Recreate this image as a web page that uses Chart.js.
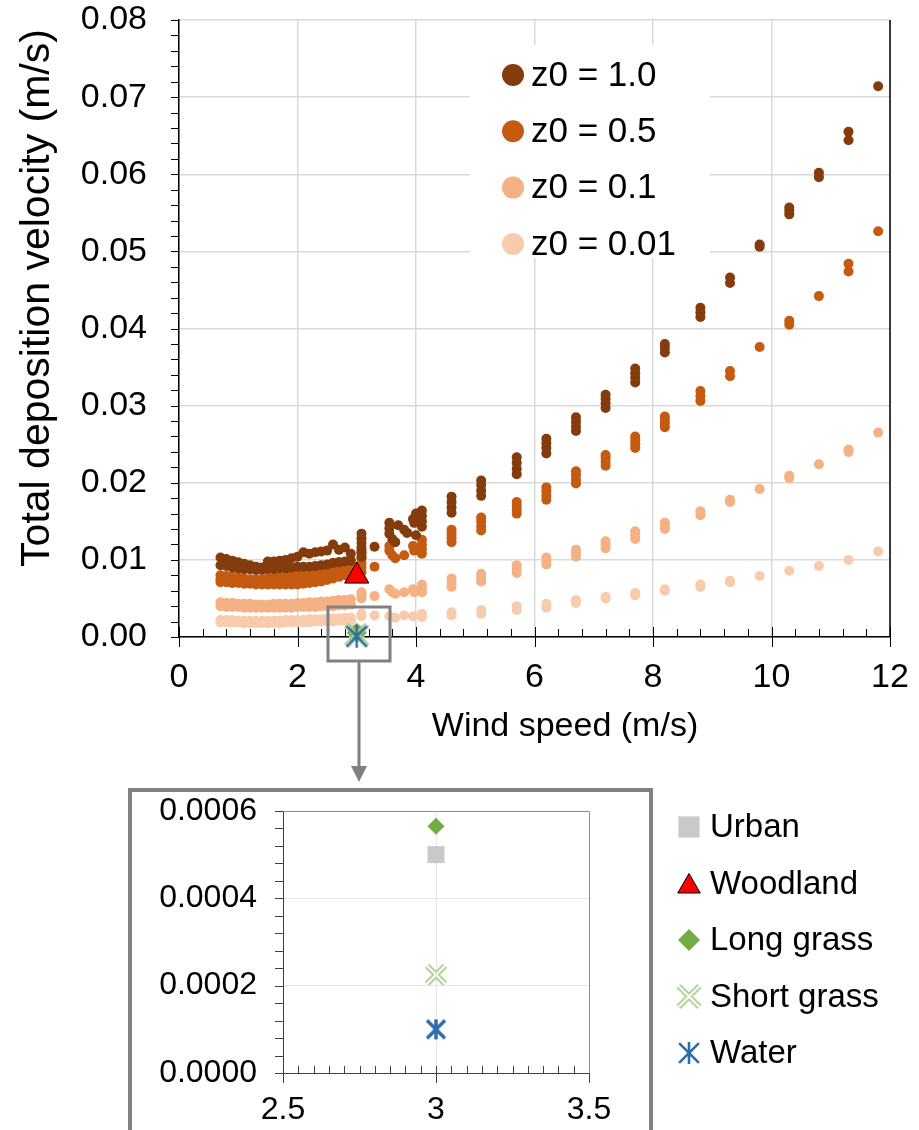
<!DOCTYPE html>
<html>
<head>
<meta charset="utf-8">
<script src="https://cdn.jsdelivr.net/npm/chart.js@4"></script>
<style>
  html, body { margin: 0; padding: 0; background: #fff; }
  body { width: 919px; height: 1130px; position: relative; overflow: hidden; }
  #mainChart { position: absolute; left: 0; top: 0; }
  #insetBox { position: absolute; left: 128px; top: 788px; width: 517px; height: 400px; border: 4px solid #808080; }
  #insetChart { position: absolute; left: 128px; top: 788px; }
</style>
</head>
<body>
<canvas id="mainChart" width="919" height="790"></canvas>
<div id="insetBox"></div>
<canvas id="insetChart" width="791" height="342"></canvas>
<script>
// ---- data ----
const seriesLabels = ['z0 = 1.0', 'z0 = 0.5', 'z0 = 0.1', 'z0 = 0.01'];
const seriesColors = ['#843C0C', '#C55A11', '#F4B183', '#F8CBAD'];

// low wind speeds: dense bands
const lowWind = [0.7, 0.8, 0.9, 1.0, 1.1, 1.2, 1.3, 1.4, 1.5, 1.6, 1.7, 1.8, 1.9, 2.0, 2.1, 2.2, 2.3, 2.4, 2.5, 2.6, 2.7, 2.8, 2.9];
const z10LowUpper = [0.0103, 0.0101, 0.0099, 0.0097, 0.0095, 0.0093, 0.0091, 0.0090, 0.0098, 0.0098, 0.0099, 0.0100, 0.0102, 0.0104, 0.0110, 0.0108, 0.0110, 0.0111, 0.0112, 0.0120, 0.0113, 0.0116, 0.0108];
const z10LowLower = [0.0093, 0.0092, 0.0090, 0.0089, 0.0088, 0.0088, 0.0087, 0.0087, 0.0088, 0.0088, 0.0089, 0.0089, 0.0090, 0.0091, 0.0091, 0.0091, 0.0092, 0.0093, 0.0094, 0.0096, 0.0097, 0.0098, 0.0099];
const z05LowUpper = [0.0080, 0.0079, 0.0078, 0.0077, 0.0076, 0.0075, 0.0075, 0.0075, 0.0076, 0.0077, 0.0077, 0.0078, 0.0079, 0.0083, 0.0087, 0.0089, 0.0089, 0.0090, 0.0092, 0.0096, 0.0097, 0.0096, 0.0098];
const z05LowMiddle = [0.0075, 0.0075, 0.0074, 0.0073, 0.0072, 0.0072, 0.0071, 0.0071, 0.0072, 0.0072, 0.0072, 0.0073, 0.0074, 0.0075, 0.0078, 0.0080, 0.0080, 0.0081, 0.0083, 0.0086, 0.0088, 0.0088, 0.0090];
const z05LowLower = [0.0071, 0.0071, 0.0070, 0.0070, 0.0069, 0.0069, 0.0068, 0.0068, 0.0068, 0.0068, 0.0068, 0.0068, 0.0068, 0.0068, 0.0069, 0.0070, 0.0071, 0.0072, 0.0074, 0.0076, 0.0078, 0.0080, 0.0082];
const z01LowUpper = [0.0045, 0.0044, 0.0044, 0.0043, 0.0043, 0.0043, 0.0042, 0.0042, 0.0042, 0.0043, 0.0043, 0.0043, 0.0043, 0.0044, 0.0044, 0.0045, 0.0045, 0.0046, 0.0046, 0.0047, 0.0048, 0.0048, 0.0049];
const z01LowLower = [0.0040, 0.0039, 0.0039, 0.0039, 0.0038, 0.0038, 0.0038, 0.0038, 0.0038, 0.0038, 0.0038, 0.0038, 0.0038, 0.0039, 0.0039, 0.0039, 0.0039, 0.0040, 0.0040, 0.0040, 0.0041, 0.0041, 0.0042];
const z001LowUpper = [0.0022, 0.0022, 0.0022, 0.0021, 0.0021, 0.0021, 0.0021, 0.0021, 0.0021, 0.0021, 0.0021, 0.0022, 0.0022, 0.0022, 0.0022, 0.0023, 0.0023, 0.0023, 0.0024, 0.0024, 0.0024, 0.0025, 0.0025];
const z001LowLower = [0.0019, 0.0019, 0.0019, 0.0019, 0.0018, 0.0018, 0.0018, 0.0018, 0.0018, 0.0018, 0.0018, 0.0019, 0.0019, 0.0019, 0.0019, 0.0019, 0.0020, 0.0020, 0.0020, 0.0020, 0.0021, 0.0021, 0.0021];

// scattered points between 3 and 4 m/s
const z10ExtraX = [3.08, 3.08, 3.08, 3.08, 3.08, 3.08, 3.3, 3.55, 3.55, 3.55, 3.6, 3.65, 3.7, 3.8, 3.85, 3.95, 3.97, 4.0, 4.0];
const z10ExtraY = [0.0104, 0.0110, 0.0116, 0.0122, 0.0128, 0.0134, 0.0117, 0.0148, 0.0141, 0.0134, 0.0127, 0.0123, 0.0145, 0.0139, 0.0135, 0.0153, 0.0148, 0.0160, 0.0132];
const z05ExtraX = [3.08, 3.08, 3.08, 3.08, 3.08, 3.08, 3.3, 3.55, 3.55, 3.6, 3.65, 3.8, 3.95, 3.97];
const z05ExtraY = [0.0084, 0.0090, 0.0096, 0.0102, 0.0108, 0.0112, 0.0091, 0.0118, 0.0112, 0.0106, 0.0102, 0.0106, 0.0118, 0.0112];
const z01ExtraX = [3.08, 3.08, 3.08, 3.3, 3.55, 3.6, 3.65, 3.8, 3.95, 3.97];
const z01ExtraY = [0.0050, 0.0054, 0.0058, 0.0053, 0.0062, 0.0058, 0.0056, 0.0058, 0.0062, 0.0058];
const z001ExtraX = [3.08, 3.08, 3.3, 3.55, 3.65, 3.8, 3.95];
const z001ExtraY = [0.0027, 0.0030, 0.0028, 0.0027, 0.0025, 0.0028, 0.0027];

// higher wind speeds: vertical clusters
const windSteps = [4.1, 4.6, 5.1, 5.7, 6.2, 6.7, 7.2, 7.7, 8.2, 8.8, 9.3, 9.8, 10.3, 10.8, 11.3, 11.8];
const z10Clusters = [
  [0.0143, 0.0150, 0.0157, 0.0164], [0.0161, 0.0168, 0.0175, 0.0182], [0.0183, 0.0190, 0.0197, 0.0203],
  [0.0211, 0.0218, 0.0226, 0.0233], [0.0238, 0.0245, 0.0251, 0.0257], [0.0267, 0.0273, 0.0279, 0.0285],
  [0.0297, 0.0303, 0.0309, 0.0314], [0.0330, 0.0336, 0.0342, 0.0348], [0.0369, 0.0375, 0.0380],
  [0.0415, 0.0421, 0.0427], [0.0459, 0.0466], [0.0506, 0.0509], [0.0548, 0.0553, 0.0557],
  [0.0596, 0.0602], [0.0644, 0.0655], [0.0714]
];
const z05Clusters = [
  [0.0108, 0.0114, 0.0120, 0.0126], [0.0123, 0.0128, 0.0134, 0.0139], [0.0138, 0.0144, 0.0150, 0.0155],
  [0.0160, 0.0165, 0.0170, 0.0175], [0.0178, 0.0183, 0.0189, 0.0194], [0.0199, 0.0204, 0.0210, 0.0215],
  [0.0222, 0.0227, 0.0232, 0.0236], [0.0245, 0.0250, 0.0255, 0.0260], [0.0272, 0.0277, 0.0282, 0.0286],
  [0.0306, 0.0312, 0.0319], [0.0338, 0.0345], [0.0376], [0.0405, 0.0410],
  [0.0442], [0.0474, 0.0484], [0.0526]
];
const z01Clusters = [
  [0.0058, 0.0063, 0.0068], [0.0065, 0.0070, 0.0076], [0.0072, 0.0077, 0.0082],
  [0.0083, 0.0088, 0.0093], [0.0094, 0.0099, 0.0103], [0.0104, 0.0109, 0.0113],
  [0.0115, 0.0120, 0.0124], [0.0127, 0.0132, 0.0137], [0.0140, 0.0144, 0.0148],
  [0.0158, 0.0163], [0.0175, 0.0178], [0.0192], [0.0206, 0.0209],
  [0.0224], [0.0240, 0.0243], [0.0265]
];
const z001Clusters = [
  [0.0026, 0.0030], [0.0028, 0.0032], [0.0030, 0.0035], [0.0035, 0.0040], [0.0038, 0.0043],
  [0.0044, 0.0048], [0.0050, 0.0052], [0.0054, 0.0057], [0.0060, 0.0062], [0.0065, 0.0068],
  [0.0071, 0.0073], [0.0079], [0.0086], [0.0092], [0.0100], [0.0111]
];

// land-use sites at 3 m/s
const siteNames = ['Urban', 'Woodland', 'Long grass', 'Short grass', 'Water'];
const siteWind = [3, 3, 3, 3, 3];
const siteDeposition = [0.0005, 0.0079, 0.000565, 0.000225, 0.0001];
const siteColors = ['#C9C9C9', '#FF0000', '#70AD47', '#A9D18E', '#2E6DA8'];

// ---- helpers ----
Chart.defaults.font.family = '"Liberation Sans", Arial, sans-serif';
Chart.defaults.color = '#000';

function rowsToPoints(rows) {
  const pts = [];
  rows.forEach(row => row.forEach((v, i) => pts.push({ x: lowWind[i], y: v })));
  return pts;
}
function pairsToPoints(xs, ys) {
  return xs.map((x, i) => ({ x: x, y: ys[i] }));
}
function clustersToPoints(clusters) {
  const pts = [];
  clusters.forEach((vals, i) => vals.forEach(v => pts.push({ x: windSteps[i], y: v })));
  return pts;
}

function doubleCross(size, color) {
  const c = document.createElement('canvas');
  c.width = c.height = size;
  const g = c.getContext('2d');
  const m = 3;
  g.beginPath();
  g.moveTo(m, m); g.lineTo(size - m, size - m);
  g.moveTo(size - m, m); g.lineTo(m, size - m);
  g.strokeStyle = color;
  g.lineWidth = 6;
  g.stroke();
  g.globalCompositeOperation = 'destination-out';
  g.lineWidth = 2.2;
  g.stroke();
  return c;
}
function asterisk(size, color, lw) {
  const c = document.createElement('canvas');
  c.width = c.height = size;
  const g = c.getContext('2d');
  const m = 2, h = size / 2;
  const d = (h - m) * 0.9;
  g.beginPath();
  g.moveTo(h, m); g.lineTo(h, size - m);
  g.moveTo(h - d, h - d); g.lineTo(h + d, h + d);
  g.moveTo(h + d, h - d); g.lineTo(h - d, h + d);
  g.strokeStyle = color;
  g.lineWidth = lw;
  g.stroke();
  return c;
}

function siteDatasets(big) {
  const styles = [
    { pointStyle: 'rect', pointRadius: big ? 11 : 12 },
    { pointStyle: 'triangle', pointRadius: 14, borderColor: '#000', borderWidth: 1 },
    { pointStyle: 'rectRot', pointRadius: big ? 10 : 8.5 },
    { pointStyle: doubleCross(big ? 27 : 24, siteColors[3]), pointRadius: 12 },
    { pointStyle: asterisk(big ? 27 : 24, siteColors[4], big ? 2.4 : 3.5), pointRadius: 12 }
  ];
  const orders = [3, 0, 2, 1, 0];
  return siteNames.map((name, i) => Object.assign({
    label: name,
    data: [{ x: siteWind[i], y: siteDeposition[i] }],
    backgroundColor: siteColors[i],
    borderColor: siteColors[i],
    borderWidth: 0,
    clip: false,
    order: orders[i]
  }, styles[i]));
}

function tickMarks(chart, o) {
  const { ctx, chartArea: a, scales: { x, y } } = chart;
  ctx.save();
  ctx.strokeStyle = o.color;
  ctx.lineWidth = 1;
  ctx.beginPath();
  const ny = Math.round((y.max - y.min) / o.yStep);
  for (let i = 0; i <= ny; i++) {
    const py = Math.round(y.getPixelForValue(y.min + i * o.yStep)) + 0.5;
    ctx.moveTo(a.left - o.yLen, py); ctx.lineTo(a.left, py);
  }
  const nx = Math.round((x.max - x.min) / o.xMinor);
  for (let i = 0; i <= nx; i++) {
    const px = Math.round(x.getPixelForValue(x.min + i * o.xMinor)) + 0.5;
    ctx.moveTo(px, a.bottom - o.xMinorLen); ctx.lineTo(px, a.bottom);
  }
  const nm = Math.round((x.max - x.min) / o.xMajor);
  for (let i = 0; i <= nm; i++) {
    const px = Math.round(x.getPixelForValue(x.min + i * o.xMajor)) + 0.5;
    ctx.moveTo(px, a.bottom - o.xMajorUp); ctx.lineTo(px, a.bottom + o.xMajorDown);
  }
  ctx.stroke();
  ctx.restore();
}

// fixed axis sizes, no extra label overflow padding
function fixX(h) {
  return s => { s.height = h; s.paddingLeft = 0; s.paddingRight = 0; };
}
function fixY(w) {
  return s => { s.width = w; s.paddingTop = 0; s.paddingBottom = 0; };
}

// ---- main chart ----
const mainDecor = {
  id: 'mainDecor',
  beforeDatasetsDraw(chart) {
    tickMarks(chart, { color: '#000', yStep: 0.002, yLen: 8, xMinor: 0.4, xMinorLen: 8, xMajor: 2, xMajorUp: 10, xMajorDown: 10 });
    const { ctx, chartArea: a } = chart;
    ctx.save();
    ctx.strokeStyle = '#000';
    ctx.lineWidth = 1.5;
    ctx.beginPath();
    ctx.moveTo(a.right, a.top); ctx.lineTo(a.right, a.bottom);
    ctx.stroke();
    ctx.restore();
  },
  afterDatasetsDraw(chart) {
    const { ctx, scales: { x, y } } = chart;
    ctx.save();
    // legend
    ctx.fillStyle = '#fff';
    ctx.fillRect(470, 45, 240, 213);
    ctx.font = '35px "Liberation Sans", Arial, sans-serif';
    ctx.textBaseline = 'middle';
    ctx.textAlign = 'left';
    seriesLabels.forEach((lab, i) => {
      const ly = 75 + i * 56.3;
      ctx.fillStyle = seriesColors[i];
      Chart.helpers.drawPoint(ctx, { pointStyle: 'circle', radius: 11, borderWidth: 0 }, 513, ly);
      ctx.fillStyle = '#000';
      ctx.fillText(lab, 531, ly + 1);
    });
    // zoom box + arrow
    const cx = Math.round(x.getPixelForValue(3)) + 2;
    const cy = y.getPixelForValue(0);
    ctx.strokeStyle = '#808080';
    ctx.lineWidth = 3;
    ctx.strokeRect(cx - 31, cy - 30, 62, 54);
    ctx.beginPath();
    ctx.moveTo(cx, cy + 24); ctx.lineTo(cx, 768);
    ctx.stroke();
    ctx.fillStyle = '#808080';
    ctx.beginPath();
    ctx.moveTo(cx - 8, 766); ctx.lineTo(cx + 8, 766); ctx.lineTo(cx, 782);
    ctx.closePath();
    ctx.fill();
    // axis titles
    ctx.fillStyle = '#000';
    ctx.textAlign = 'center';
    ctx.font = '34px "Liberation Sans", Arial, sans-serif';
    ctx.fillText('Wind speed (m/s)', 565, 727);
    ctx.translate(38, 298);
    ctx.rotate(-Math.PI / 2);
    ctx.font = '41px "Liberation Sans", Arial, sans-serif';
    ctx.fillText('Total deposition velocity (m/s)', 0, 0);
    ctx.restore();
  }
};

const dotStyle = { pointStyle: 'circle', pointRadius: 5, borderWidth: 0 };
const mainData = {
  datasets: siteDatasets(true).concat([
    Object.assign({ label: seriesLabels[0], order: 10, backgroundColor: seriesColors[0],
      data: rowsToPoints([z10LowUpper, z10LowLower]).concat(pairsToPoints(z10ExtraX, z10ExtraY), clustersToPoints(z10Clusters)) }, dotStyle),
    Object.assign({ label: seriesLabels[1], order: 11, backgroundColor: seriesColors[1],
      data: rowsToPoints([z05LowUpper, z05LowMiddle, z05LowLower]).concat(pairsToPoints(z05ExtraX, z05ExtraY), clustersToPoints(z05Clusters)) }, dotStyle),
    Object.assign({ label: seriesLabels[2], order: 12, backgroundColor: seriesColors[2],
      data: rowsToPoints([z01LowUpper, z01LowLower]).concat(pairsToPoints(z01ExtraX, z01ExtraY), clustersToPoints(z01Clusters)) }, dotStyle),
    Object.assign({ label: seriesLabels[3], order: 13, backgroundColor: seriesColors[3],
      data: rowsToPoints([z001LowUpper, z001LowLower]).concat(pairsToPoints(z001ExtraX, z001ExtraY), clustersToPoints(z001Clusters)) }, dotStyle)
  ])
};

new Chart(document.getElementById('mainChart'), {
  type: 'scatter',
  data: mainData,
  plugins: [mainDecor],
  options: {
    responsive: false,
    animation: false,
    events: [],
    layout: { padding: { top: 20, right: 29, left: 0, bottom: 0 } },
    plugins: { legend: { display: false }, tooltip: { enabled: false } },
    scales: {
      x: {
        type: 'linear', min: 0, max: 12,
        ticks: { stepSize: 2, font: { size: 34 }, padding: 20, maxRotation: 0, autoSkip: false },
        grid: { color: '#d9d9d9', lineWidth: 1.5, drawTicks: false },
        border: { color: '#000', width: 1.5 },
        afterFit: fixX(153)
      },
      y: {
        type: 'linear', min: 0, max: 0.08,
        ticks: { stepSize: 0.01, font: { size: 34 }, padding: 32, callback: v => v.toFixed(2) },
        grid: { color: '#d9d9d9', lineWidth: 1.5, drawTicks: false },
        border: { color: '#000', width: 1.5 },
        afterFit: fixY(179)
      }
    }
  }
});

// ---- inset chart ----
const insetDecor = {
  id: 'insetDecor',
  beforeDatasetsDraw(chart) {
    tickMarks(chart, { color: '#404040', yStep: 0.00004, yLen: 8, xMinor: 0.05, xMinorLen: 7, xMajor: 0.5, xMajorUp: 0, xMajorDown: 10 });
    const { ctx, chartArea: a } = chart;
    ctx.save();
    ctx.strokeStyle = '#8c8c8c';
    ctx.lineWidth = 1;
    ctx.beginPath();
    ctx.moveTo(a.left, a.top + 0.5); ctx.lineTo(a.right + 0.5, a.top + 0.5); ctx.lineTo(a.right + 0.5, a.bottom);
    ctx.stroke();
    ctx.restore();
  },
  afterDatasetsDraw(chart) {
    const ctx = chart.ctx;
    ctx.save();
    ctx.font = '33px "Liberation Sans", Arial, sans-serif';
    ctx.textBaseline = 'middle';
    ctx.textAlign = 'left';
    const icons = [
      { pointStyle: 'rect', radius: 15, borderWidth: 0 },
      { pointStyle: 'triangle', radius: 13, borderWidth: 1 },
      { pointStyle: 'rectRot', radius: 11, borderWidth: 0 },
      { pointStyle: doubleCross(27, siteColors[3]), radius: 13, borderWidth: 0 },
      { pointStyle: asterisk(26, siteColors[4], 2.6), radius: 13, borderWidth: 0 }
    ];
    siteNames.forEach((name, i) => {
      const ly = 39 + i * 56.5;
      ctx.fillStyle = siteColors[i];
      ctx.strokeStyle = '#000';
      Chart.helpers.drawPoint(ctx, icons[i], 561, i === 1 ? ly + 3 : ly);
      ctx.fillStyle = '#000';
      ctx.fillText(name, 582, ly + 1);
    });
    ctx.restore();
  }
};

new Chart(document.getElementById('insetChart'), {
  type: 'scatter',
  data: { datasets: siteDatasets(false) },
  plugins: [insetDecor],
  options: {
    responsive: false,
    animation: false,
    events: [],
    layout: { padding: { top: 23, right: 330, left: 0, bottom: 0 } },
    plugins: { legend: { display: false }, tooltip: { enabled: false } },
    scales: {
      x: {
        type: 'linear', min: 2.5, max: 3.5,
        ticks: { stepSize: 0.5, font: { size: 32 }, padding: 18, maxRotation: 0, autoSkip: false,
                 callback: v => String(+v.toFixed(1)) },
        grid: { color: '#e6e6e6', lineWidth: 1, drawTicks: false },
        border: { color: '#404040', width: 1 },
        afterFit: fixX(57)
      },
      y: {
        type: 'linear', min: 0, max: 0.0006,
        ticks: { stepSize: 0.0002, font: { size: 32 }, padding: 26, callback: v => v.toFixed(4) },
        grid: { color: '#e6e6e6', lineWidth: 1, drawTicks: false },
        border: { color: '#404040', width: 1 },
        afterFit: fixY(155)
      }
    }
  }
});
</script>
</body>
</html>
